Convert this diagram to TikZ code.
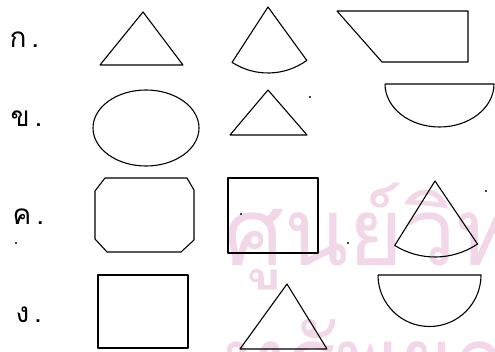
\documentclass[tikz,border=0pt]{standalone}
\usepackage{fontspec}
\newfontfamily\thaifont[Script=Thai]{Loma}
\definecolor{wmpink}{RGB}{242,215,232}

\begin{document}
\begin{tikzpicture}[x=1pt,y=-1pt,line width=1.1pt,line join=round,
  fig/.style={draw=black,line width=1.1pt},
  choice/.style={font=\thaifont\fontsize{28}{28}\selectfont,anchor=base west,inner sep=0pt},
  mark wm/.style={wmpink,font=\thaifont\fontsize{94}{94}\selectfont,anchor=base west,inner sep=0pt}]
\useasboundingbox (0,0) rectangle (495,352);
% ================= watermark =================
\begin{scope}
  \clip (0,0) rectangle (495,352);
  \node[mark wm] (wmtop) at (224,266) {ศูนย์วิทย};
  \node[mark wm] (wmbot) at (224,394) {ทรัพยากร};
\end{scope}
% ================= choice labels =================
\foreach \t/\xx/\yy/\n in {ก/9/48/a,ข/10/127/b,ค/12/225/c,ง/15/323/d}
  \node[choice] (lbl\n) at (\xx,\yy) {\t\hspace{5pt}.};
% ================= row (a) =================
\draw[fig] (143,12) -- (100,65) -- (183,65) -- cycle;
\draw[fig] (268,7) -- ++(123:66) arc[start angle=123,end angle=54,radius=66] -- cycle;
\draw[fig] (337,11) -- (468,11) -- (468,62) -- (382,62) -- cycle;
\draw[fig] (385,84) -- (494,84) arc[start angle=0,end angle=180,x radius=54.5,y radius=43];
% ================= row (b) =================
\draw[fig] (146,128) ellipse[x radius=53,y radius=38];
\draw[fig] (268,90) -- (230,135) -- (307,135) -- cycle;
% ================= row (c) =================
\draw[fig] (105,178) -- (187,178) -- (194,190) -- (194,240) -- (181,252) -- (107,252) -- (95,239) -- (95,191) -- cycle;
\draw[fig] (228,178) rectangle (318,253);
\draw[fig] (435,181) -- ++(122:76) arc[start angle=122,end angle=56,radius=76] -- cycle;
% ================= row (d) =================
\draw[fig] (98,275) rectangle (188,348);
\draw[fig] (287,284) -- (240,349) -- (327,349) -- cycle;
\draw[fig] (378,275) -- (481,275) arc[start angle=0,end angle=180,radius=51.5];
% stray specks
\foreach \p in {(241,214),(348,243),(486,191),(16,243),(310,97)}
  \fill \p circle (1.1pt);
\end{tikzpicture}
\end{document}
